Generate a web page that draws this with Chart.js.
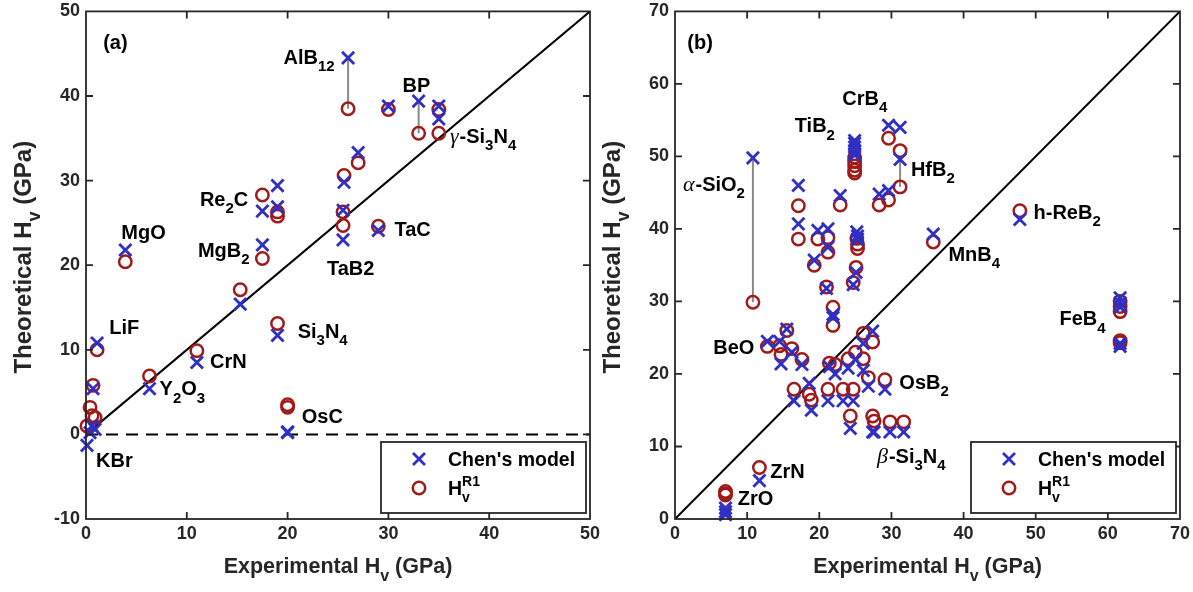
<!DOCTYPE html>
<html><head><meta charset="utf-8">
<script src="https://cdn.jsdelivr.net/npm/chart.js@4/dist/chart.umd.min.js"></script>
<style>
html,body{margin:0;padding:0;background:#fff;}
#wrap{position:relative;width:1193px;height:592px;overflow:hidden;}
canvas{position:absolute;top:0;}
</style></head><body>
<div id="wrap"><canvas id="ca" width="602" height="592" style="left:0px"></canvas><canvas id="cb" width="591" height="592" style="left:602px"></canvas></div>
<script>
// ---------- Panel (a) data ----------
const aExp  = [0.1, 0.4, 0.6, 0.9, 0.7, 1.1, 3.9, 6.3, 11.0, 15.3, 17.5, 17.5, 19.0, 19.0, 19.0, 20.0, 20.0, 25.5, 25.5, 25.6, 27.0, 26.0, 29.0, 30.0, 33.0, 35.0, 35.0];
const aChen = [-1.3, 0.2, 1.0, 0.6, 5.4, 10.8, 21.8, 5.4, 8.5, 15.4, 22.4, 26.4, 29.4, 26.9, 11.7, 0.3, 0.2, 23.0, 26.5, 29.8, 33.3, 44.5, 24.1, 38.8, 39.4, 38.8, 37.3];
const aR1   = [1.0, 3.2, 2.2, 2.0, 5.8, 10.0, 20.4, 6.9, 9.9, 17.1, 20.8, 28.3, 26.3, 25.8, 13.1, 3.2, 3.5, 24.7, 26.3, 30.6, 32.1, 38.5, 24.6, 38.4, 35.6, 38.4, 35.6];
const aLinks = [21, 24];           // AlB12, BP
const aXTicks = [0, 10, 20, 30, 40, 50];
const aYTicks = [-10, 0, 10, 20, 30, 40, 50];
const aNotes = [
  ['(a)', 1.7, 45.5], ['AlB_{12}', 19.6, 43.8], ['BP', 31.4, 40.5], ['γ-Si_3N_4', 36.1, 34.5],
  ['Re_2C', 11.3, 27.0], ['MgO', 3.5, 23.1], ['MgB_2', 11.1, 21.0], ['TaC', 30.6, 23.4],
  ['TaB2', 23.9, 18.9], ['LiF', 2.3, 11.9], ['CrN', 12.3, 7.9], ['Si_3N_4', 21.0, 11.4],
  ['Y_2O_3', 7.3, 4.6], ['OsC', 21.4, 1.3], ['KBr', 1.0, -3.9]
];

// ---------- Panel (b) data ----------
const bExp  = [7.0, 7.0, 7.0, 11.7, 10.8, 12.8, 14.5, 14.7, 15.5, 16.2, 16.5, 17.1, 17.1, 17.6, 18.6, 18.9, 19.3, 19.8, 21.2, 21.2, 21.0, 21.2, 21.4, 21.9, 21.9, 22.2, 22.9, 23.3, 24.0, 24.3, 24.7, 24.9, 24.9, 24.9, 24.9, 24.9, 24.7, 25.1, 25.2, 25.3, 25.3, 25.0, 26.1, 26.1, 26.8, 27.4, 27.4, 27.6, 28.3, 29.1, 29.6, 29.6, 29.8, 31.2, 31.2, 31.7, 35.8, 47.8, 61.7, 61.7, 61.7, 61.7, 61.7];
const bChen = [0.6, 1.0, 1.5, 5.3, 49.8, 24.5, 24.5, 21.4, 26.2, 23.0, 16.3, 46.0, 40.7, 21.3, 18.7, 15.0, 35.7, 39.8, 40.0, 37.5, 31.8, 16.3, 21.0, 27.8, 28.2, 20.0, 44.6, 16.3, 20.8, 12.5, 16.3, 52.2, 51.8, 51.3, 50.7, 50.2, 32.3, 34.0, 39.6, 39.0, 38.6, 22.0, 24.2, 20.5, 18.3, 25.9, 12.0, 12.0, 44.8, 17.9, 45.3, 54.3, 12.0, 54.0, 49.6, 12.0, 39.3, 41.3, 30.5, 29.8, 29.2, 23.8, 24.2];
const bR1   = [3.3, 3.5, 3.8, 7.1, 29.9, 23.8, 23.9, 22.7, 26.0, 23.5, 17.9, 43.2, 38.6, 22.0, 17.2, 16.4, 35.0, 38.6, 38.8, 36.8, 32.0, 17.9, 21.5, 29.2, 26.7, 21.3, 43.3, 17.9, 22.1, 14.2, 17.9, 49.9, 49.3, 48.7, 48.1, 47.7, 32.6, 34.7, 38.7, 37.9, 37.3, 23.0, 25.6, 22.1, 19.5, 24.4, 14.2, 13.5, 43.3, 19.2, 44.0, 52.5, 13.4, 50.8, 45.8, 13.4, 38.2, 42.5, 30.0, 29.3, 28.6, 24.6, 24.3];
const bLinks = [4, 54];            // α-SiO2, HfB2
const bTicks = [0, 10, 20, 30, 40, 50, 60, 70];
const bNotes = [
  ['(b)', 1.7, 64.8], ['CrB_4', 23.2, 57.1], ['TiB_2', 16.6, 53.3], ['α-SiO_2', 1.1, 45.3],
  ['HfB_2', 32.7, 47.3], ['h-ReB_2', 49.7, 41.4], ['MnB_4', 37.9, 35.6], ['FeB_4', 53.3, 26.7],
  ['BeO', 5.3, 22.7], ['OsB_2', 31.1, 17.9], ['β-Si_3N_4', 28.0, 7.7], ['ZrN', 13.2, 5.6], ['ZrO', 8.7, 1.9]
];

const seriesNames = ["Chen's model", 'H_v^{R1}'];
const xTitle = 'Experimental H_v (GPa)';
const yTitle = 'Theoretical H_v (GPa)';

// ---------- styles ----------
const FONT = '"Liberation Sans", Arial, Helvetica, sans-serif';
const SERIF = '"Liberation Serif", "DejaVu Serif", serif';
const BLUE = '#2f2fc4';
const RED = '#a01a1a';
const GRAY = '#8a8a8a';
const AXC = '#262626';

function parseRich(str) {
  const segs = [];
  let i = 0, buf = '';
  const flush = () => { if (buf) { segs.push({ t: buf, k: 'n' }); buf = ''; } };
  while (i < str.length) {
    const c = str[i];
    if (c === '_' || c === '^') {
      flush();
      let t;
      if (str[i + 1] === '{') { const j = str.indexOf('}', i); t = str.slice(i + 2, j); i = j + 1; }
      else { t = str[i + 1]; i += 2; }
      segs.push({ t, k: c === '_' ? 'sub' : 'sup' });
    } else if ('αβγ'.includes(c)) {
      flush(); segs.push({ t: c, k: 'g' }); i++;
    } else { buf += c; i++; }
  }
  flush();
  return segs;
}
function segFont(s, size) {
  if (s.k === 'g') return `italic ${Math.round(size * 1.08)}px ${SERIF}`;
  if (s.k === 'sub' || s.k === 'sup') return `bold ${Math.round(size * 0.74)}px ${FONT}`;
  return `bold ${size}px ${FONT}`;
}
function layoutRich(ctx, str, size) {
  const segs = parseRich(str);
  let cx = 0, subStart = null, subEnd = 0;
  const out = [];
  segs.forEach((s, idx) => {
    ctx.font = segFont(s, size);
    const w = ctx.measureText(s.t).width;
    let x = cx;
    const afterSub = s.k === 'sup' && idx > 0 && segs[idx - 1].k === 'sub';
    if (afterSub) x = subStart;
    const dy = s.k === 'sub' ? size * 0.36 : s.k === 'sup' ? -size * 0.48 : 0;
    out.push({ s, x, dy, font: ctx.font });
    if (s.k === 'sub') { subStart = x; subEnd = x + w; cx = x + w; }
    else if (afterSub) { cx = Math.max(subEnd, x + w); }
    else cx = x + w + (s.k === 'g' ? 1 : 0);
  });
  return { out, width: cx };
}
function drawRich(ctx, str, x, y, size, align) {
  const L = layoutRich(ctx, str, size);
  const x0 = align === 'center' ? x - L.width / 2 : x;
  ctx.textBaseline = 'alphabetic';
  ctx.textAlign = 'left';
  L.out.forEach(o => { ctx.font = o.font; ctx.fillText(o.s.t, x0 + o.x, y + o.dy); });
}

const panelPlugin = {
  id: 'panel',
  afterDraw(chart) {
    const o = chart.options.plugins.panel;
    const ctx = chart.ctx, ca = chart.chartArea;
    const xs = chart.scales.x, ys = chart.scales.y;
    ctx.save();
    // frame
    ctx.strokeStyle = AXC; ctx.lineWidth = 1.8;
    ctx.strokeRect(ca.left, ca.top, ca.right - ca.left, ca.bottom - ca.top);
    // inward ticks on all sides
    const TL = 7;
    ctx.beginPath();
    xs.ticks.forEach(t => {
      const px = xs.getPixelForValue(t.value);
      if (px <= ca.left + 1 || px >= ca.right - 1) return;
      ctx.moveTo(px, ca.bottom); ctx.lineTo(px, ca.bottom - TL);
      ctx.moveTo(px, ca.top); ctx.lineTo(px, ca.top + TL);
    });
    ys.ticks.forEach(t => {
      const py = ys.getPixelForValue(t.value);
      if (py <= ca.top + 1 || py >= ca.bottom - 1) return;
      ctx.moveTo(ca.left, py); ctx.lineTo(ca.left + TL, py);
      ctx.moveTo(ca.right, py); ctx.lineTo(ca.right - TL, py);
    });
    ctx.stroke();
    // notes
    ctx.fillStyle = '#000';
    o.notes.forEach(n => drawRich(ctx, n[0], xs.getPixelForValue(n[1]), ys.getPixelForValue(n[2]), 20, 'left'));
    // axis titles
    ctx.fillStyle = AXC;
    drawRich(ctx, xTitle, (ca.left + ca.right) / 2, ca.bottom + 54, 21.5, 'center');
    ctx.save();
    ctx.translate(ca.left - 55, (ca.top + ca.bottom) / 2 - 8);
    ctx.rotate(-Math.PI / 2);
    drawRich(ctx, yTitle, 0, 0, 24, 'center');
    ctx.restore();
    // legend
    const lw = 205, lh = 71;
    const lx = ca.right - 209, ly = ca.bottom - 77;
    ctx.fillStyle = '#fff';
    ctx.fillRect(lx, ly, lw, lh);
    ctx.strokeStyle = AXC; ctx.lineWidth = 1.8;
    ctx.strokeRect(lx, ly, lw, lh);
    const mx = lx + 38, r1y = ly + 17, r2y = ly + 46;
    ctx.strokeStyle = BLUE; ctx.lineWidth = 2.8;
    ctx.beginPath();
    ctx.moveTo(mx - 6, r1y - 6); ctx.lineTo(mx + 6, r1y + 6);
    ctx.moveTo(mx + 6, r1y - 6); ctx.lineTo(mx - 6, r1y + 6);
    ctx.stroke();
    ctx.strokeStyle = RED; ctx.lineWidth = 2.5;
    ctx.beginPath(); ctx.arc(mx, r2y, 6.2, 0, Math.PI * 2); ctx.stroke();
    ctx.fillStyle = '#000';
    drawRich(ctx, seriesNames[0], lx + 67, r1y + 7, 19.5, 'left');
    drawRich(ctx, seriesNames[1], lx + 67, r2y + 7, 19.5, 'left');
    ctx.restore();
  }
};

function makeChart(id, exp, chen, r1, links, xMax, yMin, yMax, xTicks, yTicks, notes, yWidth, padRight) {
  const datasets = [
    { label: seriesNames[0], data: exp.map((x, i) => ({ x, y: chen[i] })), pointStyle: 'crossRot', pointRadius: 8.6,
      borderColor: BLUE, backgroundColor: BLUE, borderWidth: 2.8, clip: false, showLine: false },
    { label: seriesNames[1], data: exp.map((x, i) => ({ x, y: r1[i] })), pointStyle: 'circle', pointRadius: 6.2,
      borderColor: RED, backgroundColor: 'rgba(0,0,0,0)', borderWidth: 2.5, clip: false, showLine: false }
  ];
  links.forEach(i => datasets.push({ type: 'line', data: [{ x: exp[i], y: chen[i] }, { x: exp[i], y: r1[i] }],
    borderColor: GRAY, borderWidth: 2, pointRadius: 0 }));
  datasets.push({ type: 'line', data: [{ x: 0, y: 0 }, { x: xMax, y: xMax }], borderColor: '#000', borderWidth: 2, pointRadius: 0 });
  if (yMin < 0) datasets.push({ type: 'line', data: [{ x: 0, y: 0 }, { x: xMax, y: 0 }], borderColor: '#000', borderWidth: 2,
    borderDash: [12, 8], pointRadius: 0 });
  const tickFont = { size: 18, weight: 'bold', family: FONT, lineHeight: 0.8 };
  return new Chart(document.getElementById(id), {
    type: 'scatter',
    data: { datasets },
    options: {
      responsive: false, animation: false, events: [],
      layout: { padding: { left: 0, right: padRight, top: 8, bottom: 0 } },
      plugins: { legend: { display: false }, tooltip: { enabled: false }, panel: { notes } },
      scales: {
        x: { type: 'linear', min: 0, max: xMax,
          afterBuildTicks: s => { s.ticks = xTicks.map(v => ({ value: v })); },
          ticks: { font: tickFont, color: AXC, padding: 0, maxRotation: 0, autoSkip: false },
          grid: { display: false, drawTicks: true, tickLength: 8 }, border: { display: false },
          afterFit: s => { s.height = 73; s.paddingLeft = 0; s.paddingRight = 0; } },
        y: { type: 'linear', min: yMin, max: yMax,
          afterBuildTicks: s => { s.ticks = yTicks.map(v => ({ value: v })); },
          ticks: { font: tickFont, color: AXC, padding: 0, autoSkip: false },
          grid: { display: false, drawTicks: true, tickLength: 6 }, border: { display: false },
          afterFit: s => { s.width = yWidth; s.paddingTop = 0; s.paddingBottom = 0; } }
      }
    },
    plugins: [panelPlugin]
  });
}

makeChart('ca', aExp, aChen, aR1, aLinks, 50, -10, 50, aXTicks, aYTicks, aNotes, 86, 12);
makeChart('cb', bExp, bChen, bR1, bLinks, 70, 0, 70, bTicks, bTicks, bNotes, 73, 13);
</script>
</body></html>
